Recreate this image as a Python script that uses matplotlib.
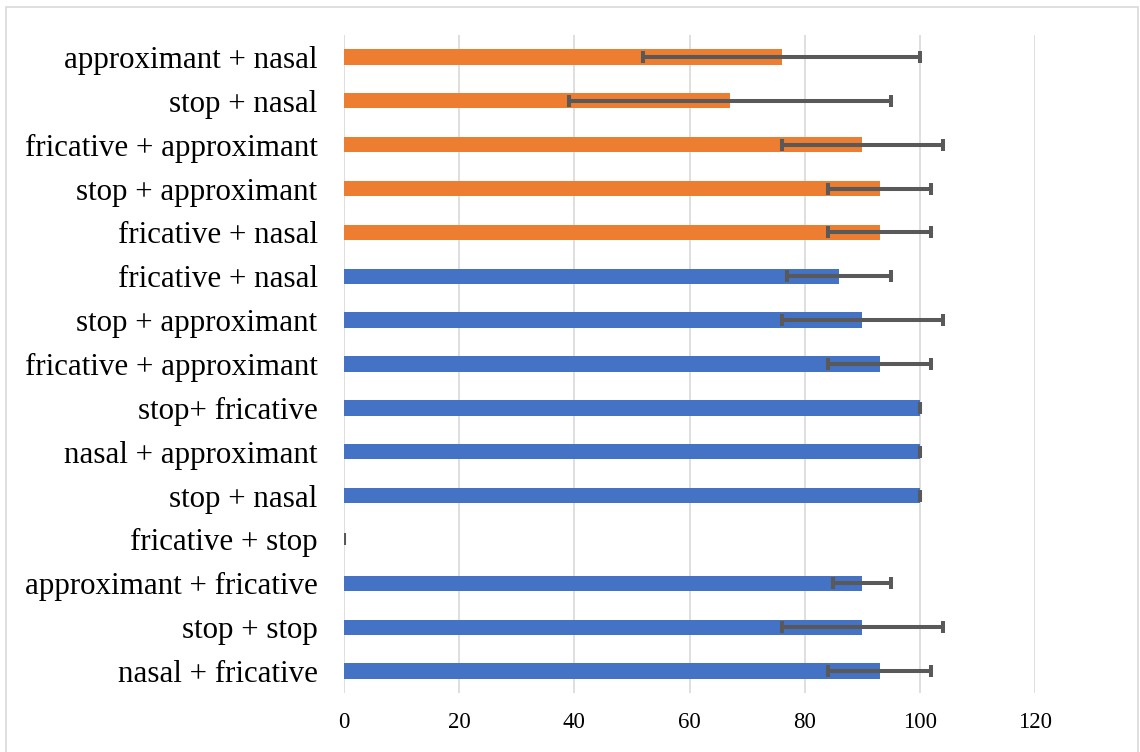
import matplotlib.pyplot as plt
from matplotlib.patches import Rectangle

# categories listed bottom to top
labels = ["nasal + fricative", "stop + stop", "approximant + fricative",
          "fricative + stop", "stop + nasal", "nasal + approximant",
          "stop+ fricative", "fricative + approximant", "stop + approximant",
          "fricative + nasal", "fricative + nasal", "stop + approximant",
          "fricative + approximant", "stop + nasal", "approximant + nasal"]
means = [93, 90, 90, 0, 100, 100, 100, 93, 90, 86, 93, 93, 90, 67, 76]
errors = [9, 14, 5, 0, 0, 0, 0, 9, 14, 9, 9, 9, 14, 28, 24]
groups = ["b"] * 10 + ["o"] * 5
xticks = [0, 20, 40, 60, 80, 100, 120]

blue = "#4472C4"
orange = "#ED7D31"
colors = [blue if g == "b" else orange for g in groups]

plt.rcParams['font.family'] = ['Liberation Serif', 'DejaVu Serif']

fig = plt.figure(figsize=(11.4, 7.52), dpi=100)
ax = fig.add_axes([344 / 1140, 1 - 693 / 752, (1035 - 344) / 1140, (693 - 35) / 752])

ypos = list(range(len(labels)))
ax.barh(ypos, means, height=0.35, color=colors, zorder=2)
ax.errorbar(means, ypos, xerr=errors, fmt="none", ecolor="#595959",
            elinewidth=2.9, capsize=4.5, capthick=2.9, zorder=3)

ax.set_xlim(0, 120)
ax.set_ylim(-0.5, len(labels) - 0.5)
ax.set_xticks(xticks)
ax.set_yticks(ypos)
ax.set_yticklabels(labels, fontsize=22.3)
ax.tick_params(axis="x", labelsize=16.5, length=0, pad=14)
ax.tick_params(axis="y", length=0, pad=19)
ax.grid(axis="x", color="#D9D9D9", linewidth=1.2, zorder=0)
for s in ax.spines.values():
    s.set_visible(False)

# chart border
fig.patches.append(Rectangle((6 / 1140, -0.01), 1132 / 1140, 1 - 7 / 752 + 0.01,
                             transform=fig.transFigure, fill=False,
                             edgecolor="#D9D9D9", linewidth=1.2))

fig.savefig("out.png", dpi=100)
